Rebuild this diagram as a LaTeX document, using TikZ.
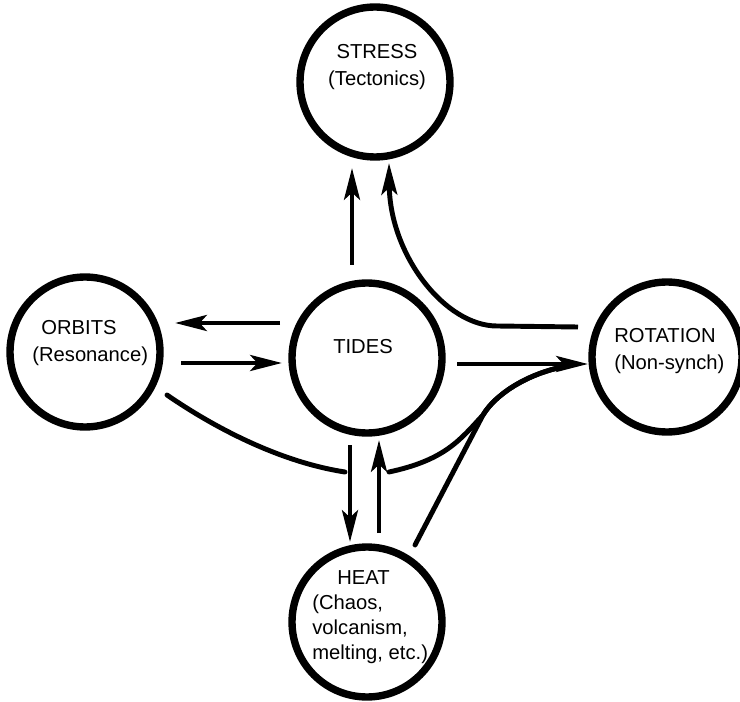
\documentclass[tikz,border=0pt]{standalone}
\usepackage{fontspec}
\setmainfont{Liberation Sans}
\usetikzlibrary{arrows.meta,calc,positioning}

\begin{document}
\begin{tikzpicture}[x=0.02cm, y=-0.02cm,
    blob/.style={draw, circle, line width=4.2pt, minimum size=3cm, inner sep=0pt},
    txt/.style={font=\fontsize{11.5}{15}\selectfont, inner sep=0pt},
    flow/.style={line width=2.8pt, -{Stealth[length=18pt, width=9pt, inset=4pt]}},
    merge/.style={line width=2.8pt, line cap=round}]
    \useasboundingbox (0,0) rectangle (740,702);

    % circles
    \node[blob] (stress) at (375,82) {};
    \node[blob] (orbits) at (85,352) {};
    \node[blob] (tides) at (367,358) {};
    \node[blob] (rotation) at (667,357) {};
    \node[blob] (heat) at (367,622) {};

    % labels
    \node[txt, align=center] (stresstxt) at (377,67) {STRESS\\(Tectonics)};
    \node[txt, align=left, anchor=west] (orbitstxt) at (32,343) {\hspace*{0.18cm}ORBITS\\(Resonance)};
    \node[txt] (tidestxt) at (363,347) {TIDES};
    \node[txt, align=left, anchor=west] (rotationtxt) at (614,351) {ROTATION\\(Non-synch)};
    \node[txt, font=\fontsize{11.5}{14.2}\selectfont, align=left, anchor=west] (heattxt) at (312,617)
        {\hspace*{0.5cm}HEAT\\(Chaos,\\volcanism,\\melting, etc.)};

    % straight arrows
    \draw[flow] ($(tides)+(-15,-93)$) -- ($(stress)+(-23,86)$);
    \draw[flow] ($(tides)+(-87,-35)$) -- ($(orbits)+(90,-29)$);
    \draw[flow] ($(orbits)+(96,11)$) -- ($(tides)+(-85,5)$);
    \draw[flow] ($(tides)+(90,6)$) -- ($(rotation)+(-79,7)$);
    \draw[flow] ($(tides)+(-17,87)$) -- ($(heat)+(-17,-80)$);
    \draw[flow] ($(heat)+(12,-89)$) -- ($(tides)+(12,82)$);

    % rotation back up to stress
    \draw[flow] ($(rotation)+(-89,-30)$) -- ($(rotation)+(-170,-31)$)
        .. controls +(-52,0) and +(1,92) .. ($(stress)+(14,81)$);

    % curves joining other arrows
    \draw[merge] ($(orbits)+(82,43)$) .. controls +(48,33) and +(-65,-10) .. ($(tides)+(-22,114)$);
    \draw[merge] ($(tides)+(22,114)$) .. controls +(56,-12) and +(-23,25) .. ($(tides)+(116,57)$)
        .. controls +(12,-20) and +(-37,8) .. ($(rotation)+(-105,10)$);
    \draw[merge] ($(heat)+(48,-77)$) -- ($(tides)+(116,57)$)
        .. controls +(12,-20) and +(-37,8) .. ($(rotation)+(-105,10)$);
\end{tikzpicture}
\end{document}
